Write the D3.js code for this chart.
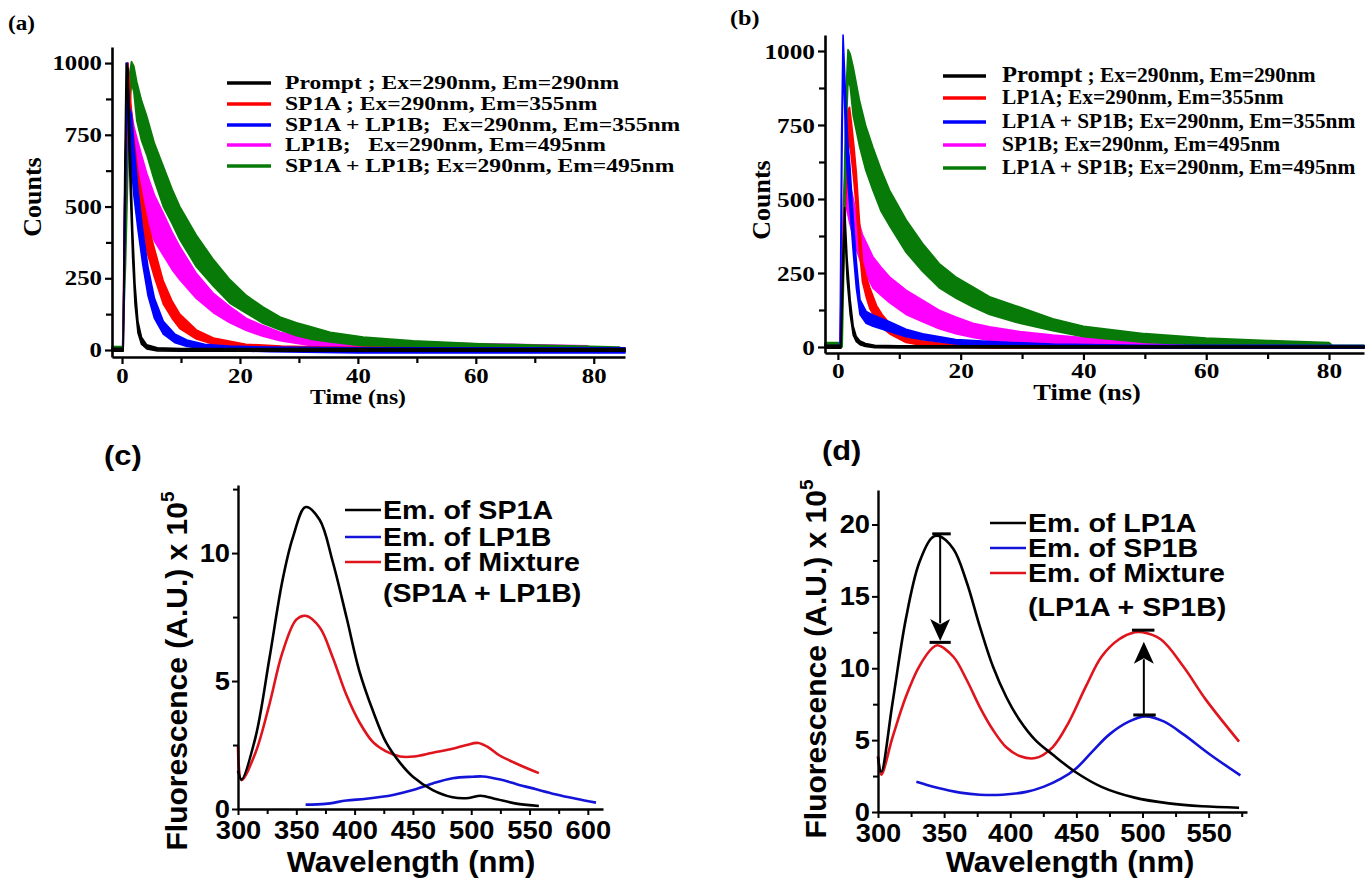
<!DOCTYPE html>
<html>
<head>
<meta charset="utf-8">
<script src="https://cdn.jsdelivr.net/npm/d3@7"></script>
<style>
  body { margin: 0; background: #fff; }
  svg { display: block; }
</style>
</head>
<body>
<svg id="fig" width="1369" height="879"></svg>
<script>
// ---------- panel (a) : decay bands (time ns, upper / lower edge in counts) ----------
const aPromptT  = [-1.7, 0.2, 0.45, 0.7, 1.0, 1.4, 1.8, 2.2, 2.7, 3.3, 4.2, 6, 10, 85.3];
const aPromptHi = [6, 6, 600, 1000, 980, 700, 420, 230, 100, 45, 18, 8, 5, 5];
const aPromptLo = [-4, -4, 400, 950, 850, 560, 320, 160, 60, 20, 4, -3, -4, -4];

const aRedT  = [0.2, 0.5, 1.0, 1.5, 2.0, 2.7, 3.6, 4.4, 5.4, 7.0, 8.5, 9.8, 12.6, 15.5, 21, 27, 35, 50, 85.3];
const aRedHi = [0, 600, 1000, 860, 740, 620, 520, 440, 360, 240, 170, 125, 70, 42, 20, 14, 10, 8, 6];
const aRedLo = [0, 400, 950, 720, 600, 480, 400, 330, 260, 160, 110, 75, 38, 20, 6, 0, -3, -3, -4];

const aBlueT  = [0.2, 0.5, 0.9, 1.2, 1.6, 2.0, 2.7, 3.5, 4.4, 5.5, 7.0, 9.0, 11, 14, 18, 25, 40, 60, 85.3];
const aBlueHi = [0, 600, 1000, 850, 820, 720, 560, 420, 290, 180, 100, 55, 35, 20, 14, 10, 8, 8, 8];
const aBlueLo = [0, 400, 950, 700, 640, 540, 420, 300, 190, 110, 55, 25, 12, 4, -2, -6, -10, -10, -10];

const aMagT  = [0.1, 0.5, 1.0, 1.3, 1.6, 2.0, 2.5, 3.3, 4.2, 5.5, 7.0, 8.5, 9.8, 12.6, 15.5, 18.3, 21.1, 23.9, 26.8, 31.9, 40, 50, 60, 70, 79];
const aMagHi = [0, 600, 1000, 850, 830, 780, 740, 680, 615, 540, 476, 410, 360, 267, 197, 151, 110, 85, 62, 42, 35, 28, 22, 18, 15];
const aMagLo = [0, 400, 950, 700, 680, 630, 580, 500, 440, 380, 330, 280, 245, 180, 130, 95, 68, 48, 32, 16, 6, 2, 0, 0, 0];

const aGreenT  = [-1.7, 0.1, 0.6, 1.2, 1.6, 2.0, 2.5, 3.3, 4.2, 5.5, 7.0, 8.5, 9.8, 12.6, 15.5, 18.3, 21.1, 23.9, 26.8, 29.6, 31.9, 35.3, 40.9, 49.4, 60.7, 70, 77.6, 84.4];
const aGreenHi = [12, 12, 500, 950, 1005, 990, 935, 870, 815, 720, 640, 560, 500, 400, 315, 245, 190, 150, 115, 95, 82, 62, 45, 32, 22, 17, 14, 10];
const aGreenLo = [-2, -2, 300, 800, 930, 900, 800, 730, 680, 590, 500, 440, 385, 290, 222, 163, 128, 93, 70, 50, 38, 28, 14, 6, 2, 0, 0, -3];

const aNames = ["Prompt ; Ex=290nm, Em=290nm", "SP1A ; Ex=290nm, Em=355nm",
                "SP1A + LP1B;  Ex=290nm, Em=355nm", "LP1B;   Ex=290nm, Em=495nm",
                "SP1A + LP1B; Ex=290nm, Em=495nm"];

// ---------- panel (b) ----------
const bPromptT  = [-2.1, 0.5, 0.8, 1.1, 1.5, 2.0, 2.5, 3.0, 3.6, 4.5, 6, 10, 85.7];
const bPromptHi = [6, 6, 300, 470, 300, 160, 70, 35, 20, 12, 6, 4, 3];
const bPromptLo = [-4, -4, 200, 410, 230, 110, 40, 18, 8, 2, -2, -3, -3];

const bRedT  = [0.4, 0.8, 1.2, 1.6, 1.9, 2.2, 2.6, 3.0, 3.5, 4.0, 4.6, 5.2, 6.3, 7.2, 8.4, 11.1, 13.8, 18, 25, 40, 85.7];
const bRedHi = [0, 300, 600, 800, 810, 760, 680, 590, 430, 290, 240, 200, 140, 110, 80, 42, 20, 10, 5, 3, 3];
const bRedLo = [0, 200, 450, 650, 700, 640, 560, 470, 330, 220, 170, 130, 90, 65, 45, 15, 5, 0, -3, -3, -3];

const bBlueT  = [-2.1, 0.35, 0.6, 0.84, 1.05, 1.3, 1.6, 2.0, 2.5, 3.0, 3.6, 4.6, 5.7, 8.4, 11.1, 13.8, 19.2, 25, 35, 50, 85.7];
const bBlueHi = [5, 5, 700, 1054, 950, 820, 700, 600, 430, 290, 160, 120, 108, 85, 60, 45, 25, 18, 10, 6, 5];
const bBlueLo = [-3, -3, 500, 1000, 850, 680, 560, 460, 320, 200, 110, 80, 70, 52, 35, 25, 10, 4, -2, -4, -4];

const bMagT  = [0.3, 0.6, 0.9, 1.2, 1.5, 1.9, 2.4, 3.0, 4.0, 5.7, 7.0, 8.4, 11.1, 13.8, 16.5, 19.2, 22.0, 24.7, 29.6, 35, 40, 50, 60, 70, 80];
const bMagHi = [0, 250, 500, 600, 590, 560, 510, 450, 380, 305, 270, 237, 192, 158, 124, 101, 80, 68, 52, 40, 32, 22, 15, 10, 8];
const bMagLo = [0, 150, 380, 500, 460, 420, 380, 330, 270, 200, 175, 150, 110, 85, 62, 45, 32, 22, 12, 6, 3, 0, -2, -3, -3];

const bGreenT  = [-2.1, 0.7, 1.0, 1.3, 1.65, 2.0, 2.5, 3.5, 4.5, 5.7, 7.0, 8.4, 11.1, 13.8, 16.5, 19.2, 22.0, 24.7, 29.6, 35, 40, 50, 60, 70, 80, 80.5, 85.7];
const bGreenHi = [15, 15, 500, 850, 1005, 990, 945, 835, 750, 675, 600, 530, 430, 350, 282, 237, 203, 170, 135, 95, 70, 45, 30, 22, 15, 6, 6];
const bGreenLo = [0, 0, 300, 700, 900, 880, 780, 680, 600, 530, 460, 410, 320, 255, 200, 165, 135, 110, 80, 55, 35, 15, 8, 3, 0, -3, -3];

const bNames = ["Prompt ; Ex=290nm, Em=290nm", "LP1A; Ex=290nm, Em=355nm",
                "LP1A + SP1B; Ex=290nm, Em=355nm", "SP1B; Ex=290nm, Em=495nm",
                "LP1A + SP1B; Ex=290nm, Em=495nm"];

const decayColors = ["#000000", "#ff0000", "#0000ff", "#ff00ff", "#087a08"];
const countTicks = [0, 250, 500, 750, 1000];
const countMinor = [125, 375, 625, 875];
const timeTicks = [0, 20, 40, 60, 80];
const timeMinor = [10, 30, 50, 70];

// ---------- panel (c) : emission spectra (nm, x10^5) ----------
const cBlackX = [300, 303, 315, 327, 338, 347, 358, 370, 381, 393, 404, 416, 427, 439, 450, 467, 484, 498, 508, 522, 540, 558];
const cBlackV = [1.5, 1.15, 2.8, 5.9, 8.9, 10.6, 11.8, 11.3, 9.7, 7.5, 5.4, 3.8, 2.6, 1.8, 1.26, 0.74, 0.46, 0.43, 0.52, 0.38, 0.2, 0.12];
const cRedX = [300, 303, 315, 327, 338, 350, 358, 370, 381, 393, 404, 416, 427, 439, 451, 467, 484, 496, 506, 515, 524, 540, 558];
const cRedV = [2.45, 1.13, 2.2, 4.1, 6.1, 7.4, 7.55, 7.1, 5.95, 4.45, 3.4, 2.6, 2.25, 2.05, 2.05, 2.2, 2.35, 2.5, 2.58, 2.4, 2.1, 1.75, 1.4];
const cBlueX = [358, 375, 393, 410, 433, 450, 467, 484, 501, 510, 525, 539, 555, 572, 590, 607];
const cBlueV = [0.17, 0.2, 0.33, 0.4, 0.55, 0.74, 1.0, 1.2, 1.26, 1.27, 1.15, 0.97, 0.78, 0.58, 0.4, 0.25];
const cNames = ["Em. of SP1A", "Em. of LP1B", "Em. of Mixture", "(SP1A + LP1B)"];
const cXTicks = [300, 350, 400, 450, 500, 550, 600];
const cXMinor = [325, 375, 425, 475, 525, 575];
const cYTicks = [0, 5, 10];
const cYMinor = [2.5, 7.5, 12.5];

// ---------- panel (d) ----------
const dBlackX = [300, 302.5, 311, 321, 331, 341, 346, 357, 367, 377, 387, 397, 407, 419, 432, 449, 469, 494, 520, 545, 573];
const dBlackV = [3.8, 2.8, 7.6, 13.4, 17.3, 19.1, 19.2, 18.3, 16.0, 12.9, 10.1, 8.0, 6.4, 5.0, 4.0, 2.8, 1.75, 1.0, 0.6, 0.4, 0.3];
const dRedX = [300, 302.5, 311, 321, 331, 341, 345, 357, 367, 377, 387, 397, 407, 419, 432, 444, 457, 469, 482, 494, 500, 514, 531, 548, 573];
const dRedV = [3.9, 2.6, 5.2, 8.0, 10.1, 11.4, 11.6, 10.8, 9.2, 7.3, 5.7, 4.5, 3.9, 3.75, 4.5, 6.2, 8.7, 10.8, 12.0, 12.5, 12.5, 12.0, 10.1, 7.8, 4.9];
const dBlueX = [329, 344, 362, 377, 394, 412, 425, 438, 450, 462, 475, 490, 502, 516, 531, 551, 574];
const dBlueV = [2.1, 1.7, 1.35, 1.2, 1.2, 1.4, 1.75, 2.3, 3.05, 4.2, 5.4, 6.3, 6.65, 6.3, 5.4, 4.0, 2.55];
const dNames = ["Em. of LP1A", "Em. of SP1B", "Em. of Mixture", "(LP1A + SP1B)"];
const dXTicks = [300, 350, 400, 450, 500, 550];
const dXMinor = [325, 375, 425, 475, 525, 575];
const dYTicks = [0, 5, 10, 15, 20];
const dYMinor = [2.5, 7.5, 12.5, 17.5, 22.5];
// arrows: position, start, tip ; caps: level, from, to
const dArrowX = [347, 501];
const dArrowFrom = [19.3, 6.75];
const dArrowTo = [11.9, 11.85];
const dCapV = [19.35, 11.8, 6.75, 12.65];
const dCapX0 = [341, 339, 493, 492];
const dCapX1 = [355, 355, 510, 509];

const specColors = ["#000000", "#1414d8", "#e0141c"];

// ---------- drawing ----------
const svg = d3.select("#fig");
const serif = "'Liberation Serif','Times New Roman',serif";
const sans = "'Liberation Sans',Arial,sans-serif";

function txt(g, x, y, s, size, fam, anchor, sx) {
  return g.append("text")
    .attr("transform", `translate(${x},${y}) scale(${sx},1)`)
    .attr("text-anchor", anchor)
    .attr("font-family", fam)
    .attr("font-weight", "bold")
    .attr("font-size", size)
    .attr("fill", "#000")
    .style("white-space", "pre")
    .text(s);
}

function vtxt(g, x, y, s, size, fam) {
  return g.append("text")
    .attr("transform", `translate(${x},${y}) rotate(-90)`)
    .attr("text-anchor", "middle")
    .attr("font-family", fam)
    .attr("font-weight", "bold")
    .attr("font-size", size)
    .text(s);
}

function axes(x, y, o) {
  const x0 = x.range()[0], y0 = y.range()[0];
  const style = (g, w) => {
    g.selectAll(".domain").attr("stroke", "#000").attr("stroke-width", o.lw);
    g.selectAll(".tick line").attr("stroke", "#000").attr("stroke-width", w);
  };
  // minor ticks
  svg.append("g").attr("transform", `translate(0,${y0})`)
    .call(d3.axisBottom(x).tickValues(o.xMinor).tickSize(o.minor).tickFormat(""))
    .call(g => { g.select(".domain").remove(); style(g, o.tw); });
  svg.append("g").attr("transform", `translate(${x0},0)`)
    .call(d3.axisLeft(y).tickValues(o.yMinor).tickSize(o.minor).tickFormat(""))
    .call(g => { g.select(".domain").remove(); style(g, o.tw); });
  // major ticks + labels
  const gx = svg.append("g").attr("transform", `translate(0,${y0})`)
    .call(d3.axisBottom(x).tickValues(o.xMajor).tickSize(o.major).tickPadding(o.xPad)
      .tickSizeOuter(0).tickFormat(d3.format("d")));
  style(gx, o.tw);
  gx.selectAll("text").attr("font-family", o.font).attr("font-weight", "bold")
    .attr("font-size", o.size).attr("fill", "#000")
    .attr("transform", `scale(${o.sx},1)`);
  const gy = svg.append("g").attr("transform", `translate(${x0},0)`)
    .call(d3.axisLeft(y).tickValues(o.yMajor).tickSize(o.major).tickPadding(o.yPad)
      .tickSizeOuter(0).tickFormat(d3.format("d")));
  style(gy, o.tw);
  gy.selectAll("text").attr("font-family", o.font).attr("font-weight", "bold")
    .attr("font-size", o.size).attr("fill", "#000")
    .attr("x", 0).attr("transform", `translate(${-(o.major + o.yPad)},0) scale(${o.sx},1)`);
}

function decayPanel(p) {
  const x = d3.scaleLinear().domain(p.xDom).range(p.xRange);
  const y = d3.scaleLinear().domain(p.yDom).range(p.yRange);
  const area = d3.area().x(d => x(d[0])).y0(d => y(d[2])).y1(d => y(d[1]));
  p.series.forEach(s => {
    const pts = s.t.map((t, i) => [t, s.hi[i], s.lo[i]]);
    svg.append("path").datum(pts)
      .attr("fill", decayColors[s.c])
      .attr("stroke", decayColors[s.c])
      .attr("stroke-width", 1.6)
      .attr("stroke-linejoin", "round")
      .attr("d", area);
  });
  axes(x, y, {xMajor: timeTicks, xMinor: timeMinor, yMajor: countTicks, yMinor: countMinor,
              major: 7, minor: 6, lw: 2.6, tw: 2.2, font: serif, size: p.tick,
              sx: p.sx, xPad: p.xPad, yPad: 3});
  const leg = svg.append("g");
  p.names.forEach((n, i) => {
    const yy = p.legY[i];
    leg.append("line").attr("x1", p.legX[0]).attr("x2", p.legX[1])
      .attr("y1", yy - 6).attr("y2", yy - 6)
      .attr("stroke", decayColors[i]).attr("stroke-width", 3.4);
    if (p.bigPrompt && i === 0) {
      const t = txt(leg, p.legX[2], yy, "", p.leg, serif, "start", p.legSx);
      t.append("tspan").attr("font-size", p.leg + 3).text("Prompt");
      t.append("tspan").text(" ; Ex=290nm, Em=290nm");
    } else {
      txt(leg, p.legX[2], yy, n, p.leg, serif, "start", p.legSx);
    }
  });
  txt(svg, p.tag[0], p.tag[1], p.tagText, p.tag[2], serif, "start", 1.1);
  vtxt(svg, p.yTitle[0], p.yTitle[1], "Counts", 26, serif);
  txt(svg, p.xTitle[0], p.xTitle[1], "Time (ns)", p.xTitle[2], serif, "middle", p.sx);
}

decayPanel({
  xDom: [-1.7, 85.3], xRange: [112, 625], yDom: [-24.4, 1056], yRange: [357, 47],
  series: [
    {t: aMagT, hi: aMagHi, lo: aMagLo, c: 3},
    {t: aGreenT, hi: aGreenHi, lo: aGreenLo, c: 4},
    {t: aRedT, hi: aRedHi, lo: aRedLo, c: 1},
    {t: aBlueT, hi: aBlueHi, lo: aBlueLo, c: 2},
    {t: aPromptT, hi: aPromptHi, lo: aPromptLo, c: 0}
  ],
  names: aNames, legX: [227, 271, 285], legY: [89, 110, 131, 151, 172], leg: 19.5, legSx: 1.21,
  tick: 21, sx: 1.18, xPad: 4, tag: [8, 30, 21], tagText: "(a)",
  yTitle: [41, 197], xTitle: [358, 404, 20]
});

decayPanel({
  xDom: [-2.1, 85.7], xRange: [825, 1364], yDom: [-20.3, 1054], yRange: [353, 35],
  series: [
    {t: bMagT, hi: bMagHi, lo: bMagLo, c: 3},
    {t: bRedT, hi: bRedHi, lo: bRedLo, c: 1},
    {t: bGreenT, hi: bGreenHi, lo: bGreenLo, c: 4},
    {t: bBlueT, hi: bBlueHi, lo: bBlueLo, c: 2},
    {t: bPromptT, hi: bPromptHi, lo: bPromptLo, c: 0}
  ],
  names: bNames, legX: [943, 986, 1002], legY: [82, 104, 128, 151, 174], leg: 20, legSx: 1.07,
  bigPrompt: true,
  tick: 22, sx: 1.15, xPad: 2, tag: [730, 25, 22], tagText: "(b)",
  yTitle: [770, 200], xTitle: [1087, 400, 23]
});

function specPanel(p) {
  const x = d3.scaleLinear().domain(p.xDom).range(p.xRange);
  const y = d3.scaleLinear().domain(p.yDom).range(p.yRange);
  const line = d3.line().x(d => x(d[0])).y(d => y(d[1])).curve(d3.curveCatmullRom.alpha(0.5));
  p.series.forEach(s => {
    svg.append("path").datum(s.x.map((v, i) => [v, s.v[i]]))
      .attr("fill", "none").attr("stroke", specColors[s.c]).attr("stroke-width", 2.6)
      .attr("d", line);
  });
  axes(x, y, {xMajor: p.xTicks, xMinor: p.xMinor, yMajor: p.yTicks, yMinor: p.yMinor,
              major: 6, minor: 5, lw: 2.4, tw: 2, font: sans, size: 26,
              sx: 1.05, xPad: 6, yPad: 2});
  const leg = svg.append("g");
  p.names.forEach((n, i) => {
    const yy = p.legY[i];
    if (i < 3) {
      leg.append("line").attr("x1", p.legX[0]).attr("x2", p.legX[1])
        .attr("y1", yy - 9).attr("y2", yy - 9)
        .attr("stroke", specColors[i]).attr("stroke-width", 2.6);
    }
    txt(leg, p.legX[2], yy, n, 26, sans, "start", 1.1);
  });
  txt(svg, p.tag[0], p.tag[1], p.tagText, 28, sans, "start", 1.1);
  const t = vtxt(svg, p.yTitle[0], p.yTitle[1], "", 30, sans);
  t.append("tspan").text("Fluorescence (A.U.) x 10");
  t.append("tspan").attr("font-size", 19).attr("dy", -13).text("5");
  txt(svg, p.xTitle[0], p.xTitle[1], "Wavelength (nm)", 29, sans, "middle", 1.07);
  return {x, y};
}

specPanel({
  xDom: [300, 613], xRange: [238, 603], yDom: [0, 12.66], yRange: [809, 485],
  series: [
    {x: cBlueX, v: cBlueV, c: 1},
    {x: cRedX, v: cRedV, c: 2},
    {x: cBlackX, v: cBlackV, c: 0}
  ],
  xTicks: cXTicks, xMinor: cXMinor, yTicks: cYTicks, yMinor: cYMinor,
  names: cNames, legX: [345, 381, 383], legY: [519, 546, 571, 602],
  tag: [104, 465], tagText: "(c)", yTitle: [187, 671], xTitle: [411, 872]
});

const dScales = specPanel({
  xDom: [300, 579], xRange: [878, 1247], yDom: [0, 22.4], yRange: [812, 490],
  series: [
    {x: dBlueX, v: dBlueV, c: 1},
    {x: dRedX, v: dRedV, c: 2},
    {x: dBlackX, v: dBlackV, c: 0}
  ],
  xTicks: dXTicks, xMinor: dXMinor.filter(v => v < 579), yTicks: dYTicks, yMinor: dYMinor.filter(v => v < 22.4),
  names: dNames, legX: [990, 1026, 1028], legY: [532, 557, 582, 616],
  tag: [822, 460], tagText: "(d)", yTitle: [826, 659], xTitle: [1070, 872]
});

// arrows in (d)
const ax = dScales.x, ay = dScales.y;
dCapV.forEach((v, i) => {
  svg.append("line").attr("x1", ax(dCapX0[i])).attr("x2", ax(dCapX1[i]))
    .attr("y1", ay(v)).attr("y2", ay(v)).attr("stroke", "#000").attr("stroke-width", 3);
});
dArrowX.forEach((v, i) => {
  const px = ax(v), y1 = ay(dArrowFrom[i]), y2 = ay(dArrowTo[i]);
  const dir = y2 > y1 ? 1 : -1;
  const headL = 22, headW = 10;
  svg.append("line").attr("x1", px).attr("x2", px).attr("y1", y1).attr("y2", y2 - dir * headL * 0.8)
    .attr("stroke", "#000").attr("stroke-width", 2);
  svg.append("path")
    .attr("d", `M${px},${y2} L${px - headW},${y2 - dir * headL} L${px},${y2 - dir * headL * 0.75} L${px + headW},${y2 - dir * headL} Z`)
    .attr("fill", "#000");
});
</script>
</body>
</html>
